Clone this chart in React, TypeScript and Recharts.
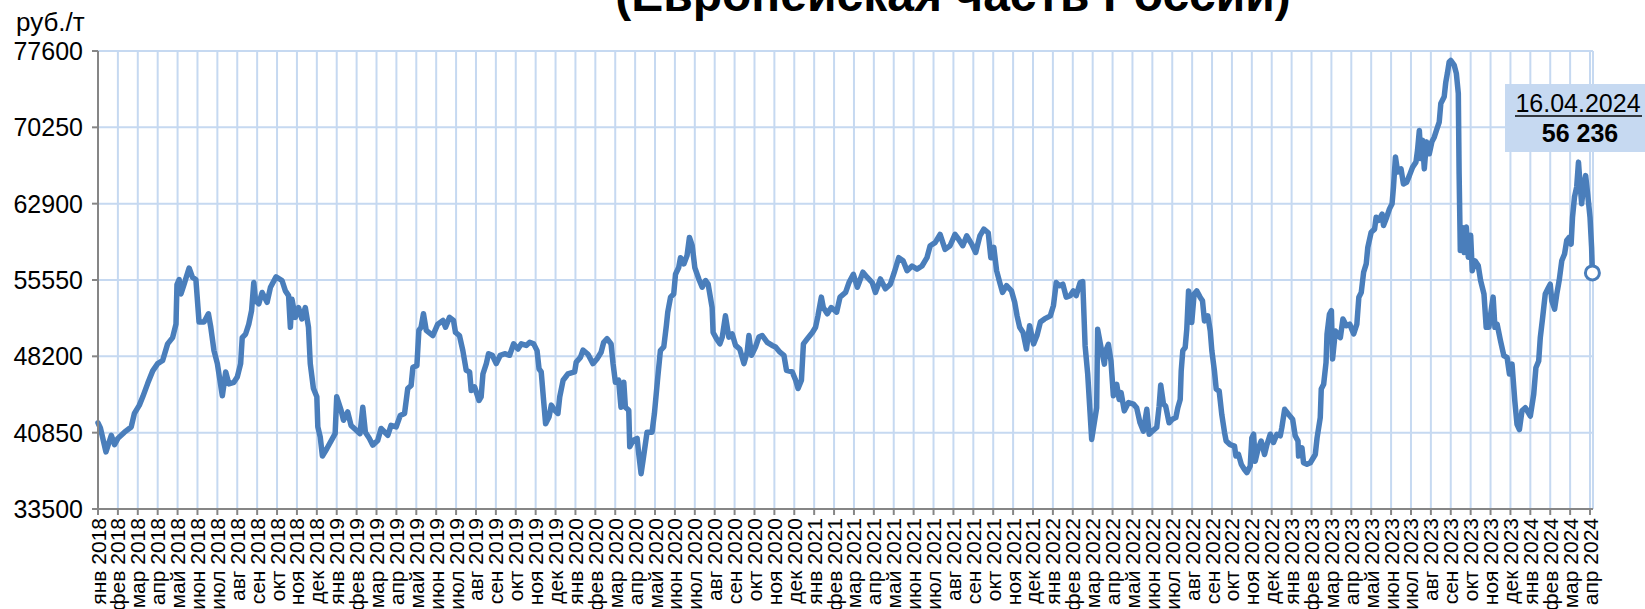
import React from 'react';
import { LineChart, Line, XAxis, YAxis, CartesianGrid } from 'recharts';

const FONT = '"Liberation Sans", Arial, sans-serif';

// Month names for the x-axis tick labels (one tick per month, Jan 2018 .. Apr 2024)
const MONTH_NAMES = ['янв', 'фев', 'мар', 'апр', 'май', 'июн', 'июл', 'авг', 'сен', 'окт', 'ноя', 'дек'];
const FIRST_YEAR = 2018;
const X_TICKS = Array.from({ length: 76 }, (_, i) => i);
const X_LABELS = X_TICKS.map((i) => `${MONTH_NAMES[i % 12]} ${FIRST_YEAR + Math.floor(i / 12)}`);

const Y_TICKS = [33500, 40850, 48200, 55550, 62900, 70250, 77600];

// Position of each observation, in months since 1 Jan 2018
const MONTHS = [
  // 2018
  0, 0.12, 0.4, 0.67, 0.83, 1, 1.33, 1.67, 1.83, 2.08, 2.25, 2.5, 2.75,
  3, 3.25, 3.5, 3.75, 3.92, 3.97, 4.08, 4.17, 4.33, 4.58, 4.75, 4.92,
  5.08, 5.33, 5.55, 5.67, 5.83, 6, 6.25, 6.42, 6.58, 6.83,
  7, 7.17, 7.25, 7.42, 7.58, 7.72, 7.83, 7.92, 8.08, 8.25, 8.5, 8.67, 8.95,
  9.25, 9.42, 9.58, 9.67, 9.75, 9.92, 10.08, 10.25, 10.42, 10.58, 10.67, 10.83,
  11, 11.05, 11.17, 11.28, 11.5, 11.92,
  // 2019
  12, 12.22, 12.34, 12.55, 12.72, 12.97, 13.17, 13.31, 13.44, 13.64, 13.81,
  14.06, 14.23, 14.57, 14.73, 14.99, 15.19, 15.41, 15.57, 15.74, 15.83,
  16.03, 16.13, 16.24, 16.36, 16.5, 16.83, 17.08, 17.34, 17.47, 17.67, 17.87, 17.97,
  18.17, 18.34, 18.51, 18.68, 18.76, 18.93, 19.15, 19.26, 19.35, 19.52, 19.63, 19.82,
  20.02, 20.22, 20.44, 20.69, 20.89, 21.11, 21.28, 21.53, 21.7, 21.9,
  22.07, 22.17, 22.28, 22.4, 22.5, 22.67, 22.79, 22.96, 23.12, 23.21, 23.38, 23.62, 23.96,
  // 2020
  24.04, 24.25, 24.38, 24.63, 24.88, 25.08, 25.29, 25.42, 25.59, 25.79, 25.89,
  26.01, 26.17, 26.29, 26.43, 26.51, 26.68, 26.73, 26.9, 27.1, 27.18, 27.3, 27.4, 27.6, 27.85, 27.97,
  28.14, 28.27, 28.44, 28.57, 28.64, 28.78, 28.94, 29.03, 29.19, 29.28, 29.45, 29.61, 29.73, 29.87,
  30, 30.2, 30.37, 30.54, 30.67, 30.87, 30.92, 31.09, 31.26, 31.38, 31.54, 31.71, 31.88,
  32.05, 32.26, 32.47, 32.63, 32.72, 32.85, 33.05, 33.22, 33.39, 33.64, 33.89,
  34.06, 34.28, 34.48, 34.61, 34.9, 35.07, 35.19, 35.36, 35.46, 35.66, 35.91,
  // 2021
  36.07, 36.19, 36.36, 36.46, 36.66, 36.86, 37.13, 37.3, 37.58, 37.75, 37.97,
  38.17, 38.45, 38.67, 38.92, 39.08, 39.33, 39.58, 39.83,
  40.03, 40.25, 40.47, 40.67, 40.92, 41.17, 41.42, 41.67, 41.83,
  42.08, 42.33, 42.58, 42.83, 43.08, 43.25, 43.47, 43.67, 43.92,
  44.12, 44.33, 44.53, 44.75, 44.88, 45.03, 45.17, 45.33, 45.47, 45.67, 45.92,
  46.08, 46.2, 46.33, 46.5, 46.67, 46.83, 47.03, 47.2, 47.37, 47.58, 47.87,
  // 2022
  48.03, 48.17, 48.33, 48.5, 48.67, 48.87, 49.03, 49.17, 49.37, 49.5, 49.62, 49.75, 49.95,
  50.2, 50.25, 50.42, 50.59, 50.65, 50.79, 50.92, 51.04, 51.21, 51.33, 51.43, 51.59, 51.8,
  52.05, 52.21, 52.38, 52.55, 52.72, 52.84, 53, 53.22, 53.34, 53.42, 53.56, 53.67, 53.84,
  54.01, 54.18, 54.28, 54.4, 54.45, 54.53, 54.65, 54.73, 54.82, 54.9, 54.98,
  55.1, 55.23, 55.4, 55.52, 55.62, 55.79, 55.91, 55.99,
  56.12, 56.21, 56.36, 56.49, 56.63, 56.71, 56.91, 57.13, 57.2, 57.33, 57.47, 57.63, 57.75, 57.92,
  58, 58.09, 58.17, 58.31, 58.47, 58.64, 58.76, 58.93, 59.09, 59.26, 59.43, 59.51, 59.65, 59.85,
  // 2023
  60.05, 60.18, 60.32, 60.35, 60.52, 60.6, 60.77, 60.94, 61.19, 61.28, 61.44, 61.49, 61.61, 61.73, 61.78, 61.9,
  62, 62.06, 62.2, 62.33, 62.45, 62.58, 62.75, 62.92, 63.12, 63.28, 63.38, 63.5, 63.62, 63.75, 63.83,
  64, 64.17, 64.25, 64.38, 64.55, 64.62, 64.78, 64.92, 65.05, 65.12, 65.22, 65.33, 65.5, 65.62, 65.78, 65.92,
  66.08, 66.25, 66.33, 66.42, 66.5, 66.58, 66.67, 66.78, 66.92,
  67.05, 67.17, 67.28, 67.42, 67.5, 67.67, 67.75, 67.83, 67.92,
  68, 68.17, 68.28, 68.38, 68.42, 68.48, 68.55, 68.67, 68.78, 68.88,
  69, 69.08, 69.22, 69.38, 69.5, 69.67, 69.78, 69.92, 70.05, 70.13, 70.22, 70.33, 70.5, 70.67, 70.83, 70.95,
  71.08, 71.22, 71.33, 71.45, 71.58, 71.75,
  // 2024
  72, 72.17, 72.28, 72.42, 72.5, 72.62, 72.75, 72.88,
  73, 73.08, 73.22, 73.33, 73.45, 73.58, 73.72, 73.83, 73.95,
  74.05, 74.12, 74.22, 74.33, 74.42, 74.5, 74.58, 74.67, 74.78, 74.88,
  75, 75.08, 75.12,
];

// Price, руб./т
const PRICES = [
  // 2018
  41800, 41300, 39000, 40600, 39700, 40300, 40900, 41400, 42700, 43500, 44300, 45600, 46800,
  47500, 47800, 49400, 50000, 51300, 55100, 55600, 54200, 55150, 56700, 55800, 55600,
  51500, 51500, 52300, 51000, 48750, 47500, 44400, 46700, 45550, 45700,
  46200, 47500, 50000, 50350, 51300, 52600, 55300, 53550, 53250, 54350, 53400, 54850, 55850,
  55500, 54500, 54050, 51000, 53700, 51950, 52900, 51800, 52900, 51000, 47500, 45100,
  44300, 41400, 40450, 38600, 39300, 40750,
  // 2019
  44300, 43000, 42050, 42850, 41550, 41100, 40750, 43300, 40900, 40300, 39650,
  40100, 41250, 40600, 41550, 41400, 42500, 42700, 45100, 45400, 47150,
  47300, 50700, 51000, 52300, 50700, 50200, 51300, 51650, 51000, 51950, 51650, 50500,
  50200, 48750, 46850, 46700, 44900, 45250, 43950, 44300, 46500, 47500, 48450, 48300,
  47500, 48300, 48450, 48300, 49400, 48900, 49400, 49250, 49550, 49400,
  48750, 47000, 46700, 43950, 41700, 42350, 43500, 43000, 42700, 44300, 45900, 46500, 46700,
  // 2020
  47650, 48100, 48800, 48400, 47500, 47950, 48600, 49550, 49900, 49400, 47500,
  45700, 45900, 43300, 45700, 43300, 43000, 39500, 40100, 40300, 38850, 36900, 38200, 40900, 40900, 42700,
  46200, 48750, 49100, 51150, 52450, 53900, 54200, 56100, 56750, 57700, 57100, 57900, 59650, 58850,
  56750, 55650, 54850, 55500, 55150, 52900, 50500, 49900, 49400, 50050, 52100, 50050, 50350,
  49250, 48900, 47500, 48600, 50200, 48300, 49100, 50050, 50200, 49550, 49250,
  49100, 48600, 48300, 46850, 46700, 45900, 45100, 45900, 49400, 49900, 50500,
  // 2021
  51000, 52100, 53900, 52900, 52300, 52900, 52450, 53900, 54350, 55300, 56100,
  54850, 56300, 55800, 55300, 54350, 55650, 54700, 55150,
  56300, 57700, 57400, 56450, 56900, 56600, 56900, 57700, 58850,
  59150, 59950, 58500, 58850, 59950, 59500, 58850, 59800, 59000,
  58200, 59800, 60450, 60100, 57700, 58700, 56450, 55300, 54350, 55000, 54500,
  53400, 52100, 51000, 50500, 48900, 51150, 49400, 50200, 51500, 51800, 52100,
  // 2022
  53100, 55300, 55000, 55150, 53900, 54050, 54500, 54050, 55300, 55400, 49200, 46500, 40200,
  43250, 50800, 49050, 47450, 48700, 49350, 47750, 44400, 45500, 44050, 44700, 42950, 43750,
  43600, 43250, 41800, 41000, 43100, 40700, 41000, 41350, 43400, 45450, 43600, 43400, 41800,
  42150, 42300, 43250, 44050, 46800, 48750, 49050, 50800, 54500, 53550, 51450,
  54200, 54500, 53900, 53550, 51600, 52100, 50650, 48750,
  46800, 45050, 44850, 42600, 40850, 40050, 39700, 39550, 38600, 38750, 37800, 37300, 37000, 37650,
  40350, 40700, 38100, 39250, 40050, 38750, 39700, 40700, 39900, 40700, 40550, 41350, 43100, 42600,
  // 2023
  42150, 40550, 40050, 38600, 39400, 37950, 37800, 37950, 38750, 40350, 42300, 45050, 45500, 47600, 50350, 52250,
  52600, 47950, 50650, 50350, 50000, 51800, 51150, 51300, 50350, 51300, 53900, 54350, 56300, 57100, 58700,
  60150, 60450, 61600, 61300, 61900, 60800, 61600, 62400, 62900, 64500, 67400, 65950, 66250, 64800, 64950, 65600,
  66400, 66900, 68050, 69950, 67250, 69000, 66250, 68850, 67700,
  68850, 69300, 69950, 70750, 72550, 73200, 74600, 75450, 76550,
  76700, 76250, 75450, 73500, 65800, 58400, 60650, 58200, 60650, 57750,
  59850, 56450, 57400, 56950, 55500, 54200, 51000, 51000, 52900, 53900, 51000, 51300, 49700, 48250, 48100, 46500,
  47450, 43900, 41650, 41150, 42950, 43250,
  // 2024
  42450, 44550, 47100, 47750, 50000, 51950, 54200, 54700,
  55150, 53550, 52750, 54200, 55500, 57400, 58050, 59350, 59650,
  59000, 61600, 63550, 64500, 66900, 64800, 62900, 64500, 65600, 63850,
  61600, 58700, 56236,
];

const LAST_DATE_LABEL = '16.04.2024';
const LAST_VALUE_LABEL = '56 236';
const TITLE = '(Европейская часть России)';
const UNIT = 'руб./т';

const data = MONTHS.map((m, i) => ({ m, v: PRICES[i] }));

const LINE_COLOR = '#4a7ebb';
const GRID_COLOR = '#c6d9f1';
const AXIS_COLOR = '#868686';

const XTick = (props: any) => {
  const { x, y, payload } = props;
  const yy = y + 1;
  return (
    <text
      x={x}
      y={yy}
      transform={`rotate(-90 ${x} ${yy})`}
      textAnchor="end"
      dominantBaseline="central"
      fontSize={21}
      fontFamily={FONT}
      fill="#000"
    >
      {X_LABELS[payload.value]}
    </text>
  );
};

const renderDot = (props: any) => {
  const { cx, cy, index } = props;
  if (index !== PRICES.length - 1) return <g key={`d${index}`} />;
  return <circle key="last-dot" cx={cx} cy={cy} r={7} fill="#fff" stroke={LINE_COLOR} strokeWidth={3} />;
};

export default function App() {
  return (
    <div style={{ position: 'fixed', left: 0, top: 0, width: 1645, height: 609, background: '#fff', overflow: 'hidden' }}>
      <LineChart width={1645} height={609} data={data} margin={{ top: 51, right: 52, bottom: 0, left: 0 }}>
        <CartesianGrid stroke={GRID_COLOR} strokeWidth={2} />
        <XAxis
          type="number"
          dataKey="m"
          domain={[0, 75.15]}
          ticks={X_TICKS}
          interval={0}
          height={100}
          tick={<XTick />}
          tickSize={6}
          axisLine={{ stroke: AXIS_COLOR, strokeWidth: 2 }}
          tickLine={{ stroke: AXIS_COLOR, strokeWidth: 2 }}
        />
        <YAxis
          type="number"
          domain={[33500, 77600]}
          ticks={Y_TICKS}
          interval={0}
          width={98}
          tickSize={6}
          tickMargin={9}
          tick={{ fontSize: 25, fill: '#000', fontFamily: FONT }}
          axisLine={{ stroke: AXIS_COLOR, strokeWidth: 2 }}
          tickLine={{ stroke: AXIS_COLOR, strokeWidth: 2 }}
        />
        <Line
          type="linear"
          dataKey="v"
          stroke={LINE_COLOR}
          strokeWidth={5.5}
          strokeLinejoin="round"
          strokeLinecap="round"
          dot={renderDot}
          activeDot={false}
          isAnimationActive={false}
        />
      </LineChart>
      <svg width={1645} height={609} style={{ position: 'absolute', left: 0, top: 0, pointerEvents: 'none' }}>
        <text x={953} y={11} textAnchor="middle" fontSize={48} fontWeight="bold" fontFamily={FONT} fill="#000">
          {TITLE}
        </text>
        <text x={16} y={31} fontSize={26} fontFamily={FONT} fill="#000">
          {UNIT}
        </text>
        <rect x={1505} y={84} width={140} height={68} fill="#c6d9f1" />
        <text x={1578} y={112} textAnchor="middle" fontSize={25} fontFamily={FONT} fill="#000">
          {LAST_DATE_LABEL}
        </text>
        <line x1={1515} x2={1642} y1={116} y2={116} stroke="#000" strokeWidth={1.5} />
        <text x={1580} y={142} textAnchor="middle" fontSize={25} fontWeight="bold" fontFamily={FONT} fill="#000">
          {LAST_VALUE_LABEL}
        </text>
      </svg>
    </div>
  );
}
